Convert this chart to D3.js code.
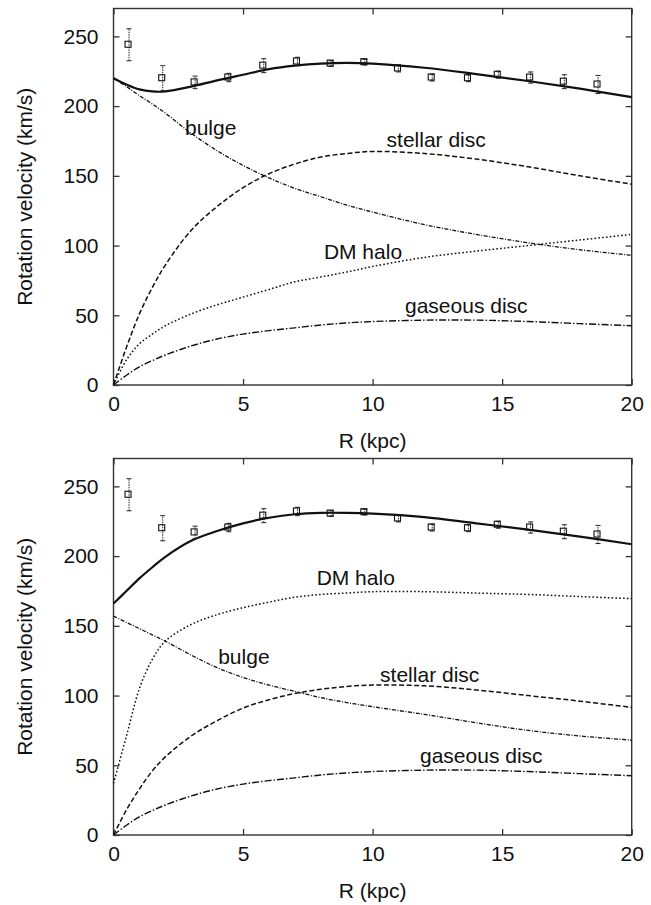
<!DOCTYPE html>
<html>
<head>
<meta charset="utf-8">
<script src="https://cdn.jsdelivr.net/npm/d3@7"></script>
<style>
  body { margin: 0; background: #fff; }
  svg text { font-family: "Liberation Sans", Arial, Helvetica, sans-serif; fill: #111; }
</style>
</head>
<body>
<svg id="chart" width="651" height="905"></svg>
<script>
//  radii where the model curves were read (kpc)
const r_samples = [0, 0.5, 1, 1.5, 2, 3, 4, 5, 6, 7, 8, 9, 10, 12, 14, 16, 18, 20];

//  model 1 (top panel)
const total_1   = [220, 215.5, 212, 210.5, 210.5, 214, 218.5, 222.5, 226.5, 229, 230.5, 231, 230.5, 227.5, 223, 218, 212.5, 206.5];
const bulge_1   = [220, 214, 207.5, 201.5, 195, 180.5, 168, 157.5, 148.5, 141, 135, 129, 124, 115, 108, 102, 97, 93];
const stellar_1 = [0, 27, 51, 70, 86, 111, 128, 141.5, 151.5, 158.5, 163.5, 166, 167.5, 166, 162, 156.5, 150, 144];
const halo_1    = [0, 18, 29.5, 36.5, 42.5, 51, 57.5, 63, 68.5, 74, 77.5, 81, 85, 91.5, 96, 100, 104, 108];
const gas_1     = [0, 7, 13, 17.5, 21.5, 28, 33, 36.5, 39, 41, 43, 44.5, 45.5, 46.5, 46.5, 45.5, 44, 42.5];

//  model 2 (bottom panel)
const total_2   = [166, 175, 184, 192, 199.5, 211, 218, 223.5, 227.5, 230, 231, 231, 230.5, 228, 223.5, 219, 214, 208.5];
const bulge_2   = [157, 152.5, 148, 143.5, 139, 129, 120, 113, 107.5, 103, 98.5, 95, 92, 86.5, 80.5, 75, 71, 68];
const stellar_2 = [0, 18, 33, 46, 56, 71, 82, 91, 97, 101.5, 104.5, 106.5, 107.5, 107, 104, 100, 96, 91.5];
const halo_2    = [37, 71, 105, 126, 139, 151, 158, 163, 167, 170.5, 172.5, 173.5, 174.5, 174.5, 173.5, 172.5, 171, 169.5];
const gas_2     = [0, 7, 13, 17.5, 21.5, 28, 33, 36.5, 39, 41, 43, 44.5, 45.5, 46.5, 46.5, 45.5, 44, 42.5];

//  observed rotation curve: radius, velocity, error
const obs_r   = [0.6, 1.9, 3.15, 4.45, 5.8, 7.1, 8.4, 9.7, 11.0, 12.3, 13.7, 14.85, 16.1, 17.4, 18.7];
const obs_v   = [244, 220, 217, 220.5, 229, 232, 230.5, 231.5, 227, 220.5, 220, 222.5, 220.5, 217.5, 215.5];
const obs_err = [11.5, 9, 4.5, 3, 5, 3, 2, 2, 2.5, 2.5, 2.5, 2.5, 4, 5, 6.5];

const x_ticks = [0, 5, 10, 15, 20];
const y_ticks = [0, 50, 100, 150, 200, 250];

//  curve names: text, R and v of the text start (baseline)
const labels_1 = [["bulge", 2.76, 179.3], ["stellar disc", 10.54, 170.9], ["DM halo", 8.12, 90.1], ["gaseous disc", 11.25, 51.6]];
const labels_2 = [["DM halo", 7.84, 179.3], ["bulge", 4.04, 122.4], ["stellar disc", 10.29, 109.4], ["gaseous disc", 11.83, 51.4]];

const styles = {
  total:   {dash: null,          width: 2.2},
  bulge:   {dash: "4,1.5,1,1.5", width: 1.3},
  stellar: {dash: "5,2.5",       width: 1.5},
  halo:    {dash: "1.6,2.2",     width: 1.5},
  gas:     {dash: "7,2,1.5,2",   width: 1.4}
};

const svg = d3.select("#chart");
const fs = 21;

//  draw one panel
function draw_panel(top, curves, labels) {
  const left = 113.5, right = 631.7;
  const bottom = top + 376.5;

  const x = d3.scaleLinear().domain([0, 20]).range([left, right]);
  const y = d3.scaleLinear().domain([0, 270]).range([bottom, top]);

  const g = svg.append("g");

  //  frame
  g.append("rect")
    .attr("x", left).attr("y", top)
    .attr("width", right - left).attr("height", bottom - top)
    .attr("fill", "none").attr("stroke", "#333").attr("stroke-width", 1.4);

  //  inward ticks on all four sides
  const tl = 6;
  const xAxis = d3.axisBottom(x).tickValues(x_ticks).tickSize(-tl).tickPadding(11).tickFormat(d3.format("d"));
  const yAxis = d3.axisLeft(y).tickValues(y_ticks).tickSize(-tl).tickPadding(15).tickFormat(d3.format("d"));

  const gx = g.append("g").attr("transform", `translate(0,${bottom})`).call(xAxis);
  const gy = g.append("g").attr("transform", `translate(${left},0)`).call(yAxis);
  g.append("g").attr("transform", `translate(0,${top})`)
    .call(d3.axisTop(x).tickValues(x_ticks).tickSize(-tl).tickFormat(""));
  g.append("g").attr("transform", `translate(${right},0)`)
    .call(d3.axisRight(y).tickValues(y_ticks).tickSize(-tl).tickFormat(""));

  g.selectAll(".domain").remove();
  g.selectAll(".tick line").attr("stroke", "#333").attr("stroke-width", 1.3);
  gx.selectAll("text").style("font-size", fs + "px").attr("fill", "#111").attr("dy", "0.71em");
  gy.selectAll("text").style("font-size", fs + "px").attr("fill", "#111");

  //  model curves
  const line = d3.line()
    .x((d, i) => x(r_samples[i]))
    .y(d => y(d))
    .curve(d3.curveCatmullRom);

  curves.forEach(c => {
    g.append("path")
      .attr("d", line(c.values))
      .attr("fill", "none")
      .attr("stroke", "#111")
      .attr("stroke-width", styles[c.style].width)
      .attr("stroke-dasharray", styles[c.style].dash);
  });

  //  observed points with error bars
  obs_r.forEach((r, i) => {
    const cx = x(r), cy = y(obs_v[i]);
    const y0 = y(obs_v[i] - obs_err[i]), y1 = y(obs_v[i] + obs_err[i]);
    g.append("line")
      .attr("x1", cx).attr("x2", cx).attr("y1", y0).attr("y2", y1)
      .attr("stroke", "#222").attr("stroke-width", 1).attr("stroke-dasharray", "1.5,1");
    [y0, y1].forEach(yy => {
      g.append("line")
        .attr("x1", cx - 2.5).attr("x2", cx + 2.5).attr("y1", yy).attr("y2", yy)
        .attr("stroke", "#222").attr("stroke-width", 1);
    });
    g.append("rect")
      .attr("x", cx - 4).attr("y", cy - 3.5).attr("width", 6).attr("height", 6)
      .attr("fill", "none").attr("stroke", "#111").attr("stroke-width", 1.1);
  });

  //  curve names
  labels.forEach(l => {
    g.append("text")
      .attr("x", x(l[1])).attr("y", y(l[2]))
      .attr("text-anchor", "start")
      .style("font-size", fs + "px")
      .text(l[0]);
  });

  //  axis titles
  g.append("text")
    .attr("x", (left + right) / 2).attr("y", bottom + 63)
    .attr("text-anchor", "middle")
    .style("font-size", fs + "px")
    .text("R (kpc)");

  g.append("text")
    .attr("transform", `translate(32,${(top + bottom) / 2}) rotate(-90)`)
    .attr("text-anchor", "middle")
    .style("font-size", fs + "px")
    .text("Rotation velocity (km/s)");
}

draw_panel(8.5, [
  {values: total_1, style: "total"},
  {values: bulge_1, style: "bulge"},
  {values: stellar_1, style: "stellar"},
  {values: halo_1, style: "halo"},
  {values: gas_1, style: "gas"}
], labels_1);

draw_panel(458.5, [
  {values: total_2, style: "total"},
  {values: bulge_2, style: "bulge"},
  {values: stellar_2, style: "stellar"},
  {values: halo_2, style: "halo"},
  {values: gas_2, style: "gas"}
], labels_2);
</script>
</body>
</html>
